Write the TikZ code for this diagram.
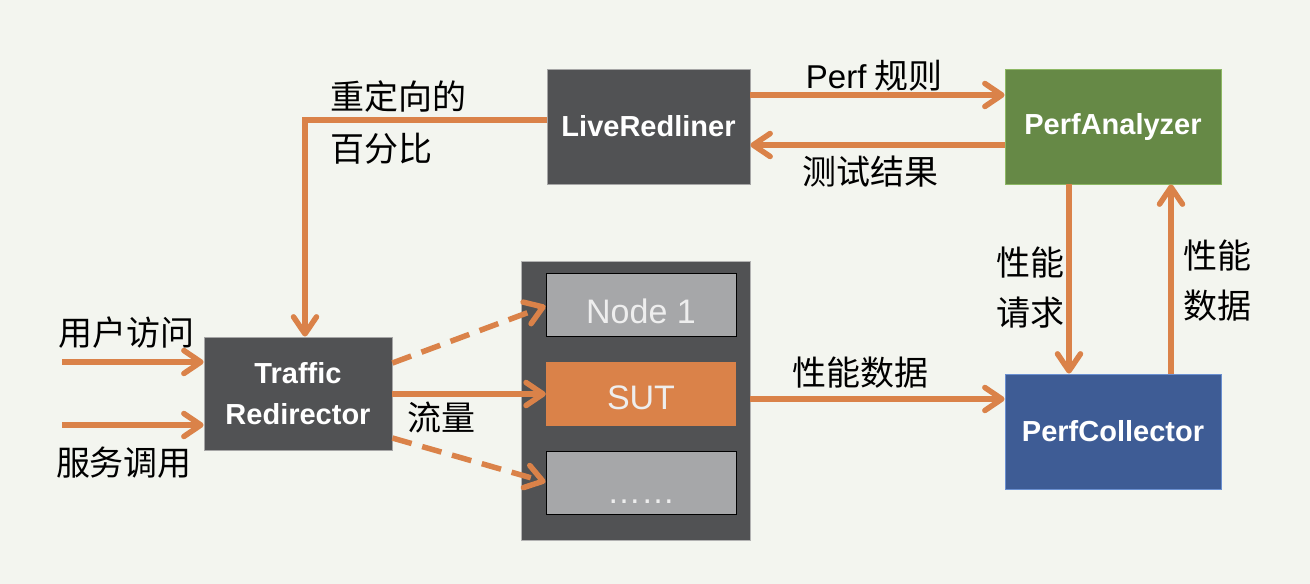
\documentclass[tikz,border=0pt]{standalone}
\usepackage{fontspec}
\setmainfont{Liberation Sans}
\newfontfamily\cjk{Noto Sans CJK SC}
\usetikzlibrary{arrows.meta,calc}
\definecolor{bg}{HTML}{F3F5EF}
\definecolor{dgray}{HTML}{515254}
\definecolor{orng}{HTML}{DA8249}
\definecolor{grn}{HTML}{668946}
\definecolor{grnedge}{HTML}{8DB864}
\definecolor{blu}{HTML}{3E5C95}
\definecolor{bluedge}{HTML}{6A8FD0}
\definecolor{lgray}{HTML}{A6A7A9}
\definecolor{ntext}{HTML}{EEEEEE}
\begin{document}
\begin{tikzpicture}[x=1pt,y=-1pt,
  boxbase/.style={rectangle, inner sep=0pt, text=white, align=center,
    font=\fontsize{29}{41}\selectfont\bfseries},
  dbox/.style={boxbase, fill=dgray, draw=gray!70, line width=0.8pt},
  gbox/.style={boxbase, fill=grn, draw=grnedge, line width=0.8pt},
  bbox/.style={boxbase, fill=blu, draw=bluedge, line width=0.8pt},
  cbox/.style={rectangle, inner sep=0pt, fill=dgray, draw=gray!60, line width=0.8pt},
  ibox/.style={rectangle, inner sep=0pt, fill=lgray, draw=black, line width=0.8pt,
    minimum width=190pt, minimum height=63pt},
  sbox/.style={rectangle, inner sep=0pt, fill=orng,
    minimum width=190pt, minimum height=64pt},
  itext/.style={inner sep=0pt, text=ntext, font=\fontsize{34}{40}\selectfont},
  lbl/.style={inner sep=0pt, align=center, text=black, font=\cjk\fontsize{34}{50}\selectfont},
  arr/.style={draw=orng, line width=5.5pt, -{Straight Barb[length=17pt,width=23pt,round]}},
  dsh/.style={arr, dash pattern=on 20pt off 11pt}
]
\fill[bg] (0,0) rectangle (1310,584);
\useasboundingbox (0,0) rectangle (1310,584);

% main boxes
\node[dbox, minimum width=188pt, minimum height=113pt] (tr) at (298,393.5) {Traffic\\Redirector};
\node[dbox, minimum width=203pt, minimum height=115pt] (lr) at (648.5,126.5) {LiveRedliner};
\node[gbox, minimum width=216pt, minimum height=115pt] (pa) at (1113,126.5) {PerfAnalyzer};
\node[bbox, minimum width=216pt, minimum height=115pt] (pc) at (1113,431.5) {PerfCollector};

% container with nodes
\node[cbox, minimum width=229pt, minimum height=279pt] (cont) at (635.5,400.5) {};
\node[ibox] (n1) at (641,304.5) {};
\node[sbox] (sut) at (641,394) {};
\node[ibox] (dots) at (641,483) {};
\node[itext] (n1t) at (641,311) {Node 1};
\node[itext] (sutt) at (641,398) {SUT};
\node[itext, anchor=base] (dotst) at (641,503) {……};

% coordinates
\coordinate (in1) at (62,362);
\coordinate (in2) at (62,425);
\coordinate (bend) at (305,120);
\coordinate (yp) at (0,95);
\coordinate (yt) at (0,145);
\coordinate (xd) at (1069,0);
\coordinate (xu) at (1171,0);
\coordinate (ys) at (0,399);
\coordinate (yf) at (0,394);
\coordinate (yd1s) at (0,363);
\coordinate (yd1e) at (0,306);
\coordinate (yd2s) at (0,438);
\coordinate (yd2e) at (0,482);

% connectors
\draw[arr] (in1) -- (in1 -| tr.west);
\draw[arr] (in2) -- (in2 -| tr.west);
\draw[arr] (lr.west |- bend) -- (bend) -- (bend |- tr.north);
\draw[arr] (lr.east |- yp) -- (pa.west |- yp);
\draw[arr] (pa.west |- yt) -- (lr.east |- yt);
\draw[arr] (pa.south -| xd) -- (pc.north -| xd);
\draw[arr] (pc.north -| xu) -- (pa.south -| xu);
\draw[arr] (cont.east |- ys) -- (pc.west |- ys);
\draw[arr] (tr.east |- yf) -- (sut.west |- yf);
\draw[dsh] (tr.east |- yd1s) -- (n1.west |- yd1e);
\draw[dsh] (tr.east |- yd2s) -- (dots.west |- yd2e);

% labels
\node[lbl] (l1) at (126,333) {用户访问};
\node[lbl] (l2) at (124,463) {服务调用};
\node[lbl] (l3) at (441,418) {流量};
\node[lbl] (l4) at (398,97) {重定向的};
\node[lbl] (l5) at (381,149) {百分比};
\node[lbl] (l6) at (874,76) {{\fontspec{Liberation Sans}\fontsize{33}{40}\selectfont Perf} 规则};
\node[lbl] (l7) at (870,172) {测试结果};
\node[lbl] (l8) at (860,373) {性能数据};
\node[lbl] (l9) at (1030,288) {性能\\请求};
\node[lbl] (l10) at (1217,281) {性能\\数据};
\end{tikzpicture}
\end{document}
